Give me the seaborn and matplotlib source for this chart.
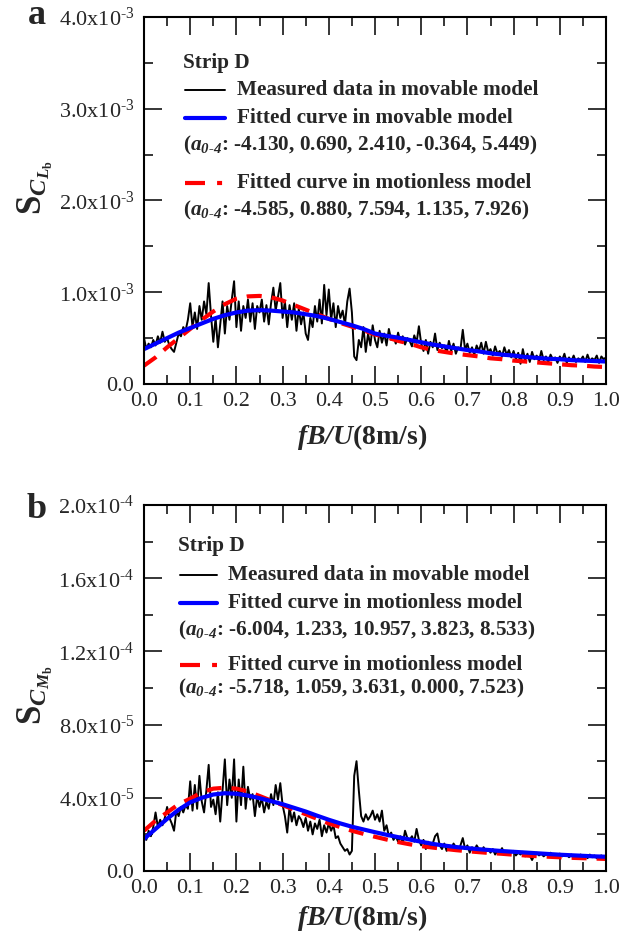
import numpy as np
import pandas as pd
import matplotlib
matplotlib.use("Agg")
import matplotlib.pyplot as plt
import seaborn as sns

# frequency grid of the measured spectra and of the fitted curves
freq = np.round(np.arange(201) * 0.005, 3)
fit_freq = np.round(np.arange(41) * 0.025, 3)

# panel a, values in 1e-3
measured_a = [
    0.50, 0.38, 0.44, 0.40, 0.48, 0.42, 0.52, 0.45, 0.57, 0.46,
    0.50, 0.42, 0.38, 0.35, 0.45, 0.55, 0.52, 0.62, 0.58, 0.70,
    0.88, 0.62, 0.78, 0.60, 0.85, 0.70, 0.90, 0.76, 1.10, 0.75,
    0.46, 0.72, 0.40, 0.65, 0.90, 0.55, 0.85, 0.70, 0.92, 1.12,
    0.62, 0.90, 0.58, 0.85, 0.72, 0.92, 0.68, 0.88, 0.60, 0.85,
    0.78, 0.92, 0.68, 0.86, 0.65, 0.88, 1.05, 0.80, 0.95, 1.10,
    0.72, 0.90, 0.62, 0.86, 0.70, 0.88, 0.58, 0.82, 0.65, 0.78,
    0.55, 0.48, 0.72, 0.62, 0.85, 0.68, 0.92, 0.66, 1.08, 0.75,
    1.03, 0.70, 0.88, 0.62, 0.85, 0.72, 0.80, 0.65, 0.90, 1.04,
    0.78, 0.30, 0.26, 0.48, 0.40, 0.62, 0.35, 0.55, 0.42, 0.64,
    0.48, 0.40, 0.58, 0.45, 0.55, 0.42, 0.60, 0.48, 0.52, 0.44,
    0.56, 0.46, 0.52, 0.43, 0.50, 0.47, 0.41, 0.53, 0.45, 0.63,
    0.44, 0.36, 0.48, 0.33, 0.46, 0.40, 0.55, 0.37, 0.45, 0.39,
    0.42, 0.34, 0.47, 0.36, 0.44, 0.33, 0.40, 0.38, 0.59, 0.37,
    0.44, 0.34, 0.40, 0.32, 0.42, 0.36, 0.45, 0.33, 0.46, 0.35,
    0.38, 0.31, 0.41, 0.33, 0.36, 0.30, 0.40, 0.32, 0.37, 0.29,
    0.36, 0.27, 0.34, 0.22, 0.38, 0.26, 0.33, 0.24, 0.35, 0.27,
    0.31, 0.25, 0.36, 0.26, 0.30, 0.24, 0.32, 0.27, 0.29, 0.23,
    0.30, 0.26, 0.33, 0.23, 0.29, 0.25, 0.31, 0.24, 0.28, 0.26,
    0.30, 0.24, 0.32, 0.25, 0.28, 0.26, 0.31, 0.23, 0.30, 0.27, 0.29,
]
fit_movable_a = [
    0.38, 0.44, 0.50, 0.56, 0.61, 0.66, 0.71, 0.75, 0.78, 0.80,
    0.805, 0.80, 0.79, 0.78, 0.76, 0.74, 0.71, 0.675, 0.64, 0.60,
    0.55, 0.525, 0.505, 0.48, 0.455, 0.43, 0.41, 0.39, 0.37, 0.355,
    0.335, 0.32, 0.31, 0.295, 0.285, 0.275, 0.27, 0.26, 0.255, 0.25, 0.245,
]
fit_motionless_a = [
    0.20, 0.29, 0.40, 0.50, 0.60, 0.70, 0.79, 0.87, 0.93, 0.955,
    0.96, 0.945, 0.91, 0.86, 0.81, 0.76, 0.71, 0.665, 0.625, 0.585,
    0.54, 0.51, 0.47, 0.44, 0.40, 0.37, 0.35, 0.33, 0.315, 0.30,
    0.28, 0.27, 0.255, 0.245, 0.235, 0.225, 0.215, 0.205, 0.20, 0.19, 0.185,
]

# panel b, values in 1e-5
measured_b = [
    2.0, 1.7, 2.2, 1.9, 2.4, 3.2, 2.4, 2.8, 2.5, 2.9,
    3.5, 2.9, 2.6, 2.2, 3.3, 3.0, 3.5, 3.2, 3.6, 3.4,
    4.9, 3.3, 4.7, 3.4, 5.2, 3.8, 3.2, 4.4, 5.8, 3.5,
    3.9, 3.1, 4.3, 2.7, 4.4, 6.1, 3.6, 5.0, 4.0, 6.1,
    2.7, 5.0, 3.6, 5.7, 3.4, 4.6, 3.9, 4.2, 3.0, 4.1,
    3.5, 4.0, 3.2, 3.8, 3.4, 4.2, 3.6, 4.7, 3.9, 4.8,
    3.6, 3.0, 2.1, 3.5, 2.7, 3.2, 2.5, 3.0, 2.8, 2.4,
    2.9, 2.2, 2.7, 2.0, 2.6, 2.3, 2.8, 1.9, 2.5, 2.1,
    2.6, 2.2, 2.5, 1.8, 1.9, 1.5, 1.3, 1.1, 1.2, 0.9,
    1.1, 5.2, 6.0, 4.4, 3.0, 2.7, 3.1, 2.8, 3.0, 3.3,
    2.8, 3.1, 2.7, 3.3, 2.2, 2.5, 1.9, 2.1, 1.7, 1.9,
    1.6, 1.9, 1.5, 2.2, 1.8, 1.7, 1.9, 1.6, 2.3, 1.7,
    1.4, 1.7, 1.2, 1.6, 1.3, 1.5, 1.9, 2.05, 1.4, 1.2,
    1.5, 1.1, 1.4, 1.2, 1.5, 1.3, 1.1, 1.4, 1.8, 1.2,
    1.4, 1.0, 1.3, 1.1, 1.4, 1.2, 1.0, 1.3, 1.1, 1.2,
    1.0, 1.2, 0.9, 1.1, 1.0, 1.25, 0.95, 1.1, 0.9, 1.05,
    1.1, 0.85, 1.0, 0.9, 1.05, 0.8, 0.95, 0.85, 0.6, 0.9,
    1.0, 0.85, 0.95, 0.8, 0.9, 0.85, 1.0, 0.8, 0.9, 0.85,
    0.95, 0.8, 0.85, 0.9, 0.75, 0.9, 0.8, 0.85, 0.75, 0.9,
    0.8, 0.85, 0.7, 0.9, 0.75, 0.85, 0.7, 0.8, 0.85, 0.75, 0.8,
]
fit_movable_b = [
    1.75, 2.3, 2.85, 3.35, 3.75, 4.0, 4.18, 4.25, 4.22, 4.12,
    3.98, 3.82, 3.65, 3.45, 3.25, 3.02, 2.8, 2.6, 2.42, 2.27,
    2.12, 1.98, 1.85, 1.72, 1.6, 1.48, 1.39, 1.31, 1.25, 1.19,
    1.14, 1.09, 1.05, 1.01, 0.97, 0.93, 0.89, 0.86, 0.83, 0.80, 0.78,
]
fit_motionless_b = [
    2.2, 2.75, 3.2, 3.65, 3.95, 4.3, 4.5, 4.55, 4.5, 4.35,
    4.1, 3.85, 3.6, 3.35, 3.1, 2.85, 2.6, 2.4, 2.2, 2.03,
    1.87, 1.72, 1.58, 1.46, 1.36, 1.28, 1.21, 1.14, 1.08, 1.03,
    0.98, 0.94, 0.89, 0.85, 0.81, 0.78, 0.75, 0.72, 0.70, 0.68, 0.66,
]

xticks = [0.0, 0.1, 0.2, 0.3, 0.4, 0.5, 0.6, 0.7, 0.8, 0.9, 1.0]
xtick_labels = ['0.0', '0.1', '0.2', '0.3', '0.4', '0.5', '0.6', '0.7', '0.8', '0.9', '1.0']
yticks_a = [0.0, 1e-3, 2e-3, 3e-3, 4e-3]
ytick_labels_a = ['0.0', '1.0x10$^{\u20103}$', '2.0x10$^{\u20103}$', '3.0x10$^{\u20103}$',
                  '4.0x10$^{\u20103}$']
yticks_b = [0.0, 4e-5, 8e-5, 1.2e-4, 1.6e-4, 2.0e-4]
ytick_labels_b = ['0.0', '4.0x10$^{\u20105}$', '8.0x10$^{\u20105}$', '1.2x10$^{\u20104}$',
                  '1.6x10$^{\u20104}$', '2.0x10$^{\u20104}$']

key_a = ['Measured data in movable model',
         'Fitted curve in movable model',
         '($\\mathbfit{a}_{\\mathbfit{0\u20104}}$: -4.130, 0.690, 2.410, -0.364, 5.449)',
         'Fitted curve in motionless model',
         '($\\mathbfit{a}_{\\mathbfit{0\u20104}}$: -4.585, 0.880, 7.594, 1.135, 7.926)']
key_b = ['Measured data in movable model',
         'Fitted curve in motionless model',
         '($\\mathbfit{a}_{\\mathbfit{0\u20104}}$: -6.004, 1.233, 10.957, 3.823, 8.533)',
         'Fitted curve in motionless model',
         '($\\mathbfit{a}_{\\mathbfit{0\u20104}}$: -5.718, 1.059, 3.631, 0.000, 7.523)']

sns.set_style("ticks")
plt.rcParams['font.family'] = ['Liberation Serif', 'DejaVu Serif']
plt.rcParams['mathtext.fontset'] = 'custom'
plt.rcParams['mathtext.rm'] = 'Liberation Serif'
plt.rcParams['mathtext.it'] = 'Liberation Serif:italic'
plt.rcParams['mathtext.bf'] = 'Liberation Serif:bold'
plt.rcParams['mathtext.bfit'] = 'Liberation Serif:italic:bold'

fig = plt.figure(figsize=(6.44, 9.38), dpi=100)
ax_a = fig.add_axes([144 / 644, 1 - 384 / 938, 462 / 644, 367 / 938])
ax_b = fig.add_axes([144 / 644, 1 - 871 / 938, 462 / 644, 366 / 938])

red_dash = (0, (3.6, 2.4))
key_size = 15.3


def draw_panel(ax, meas, fit1, fit2, scale, yticks, ylabels, ymax, yminor, ylab, ylab_y):
    sns.lineplot(x=freq, y=np.array(meas) * scale, ax=ax, color='black', lw=1.4, errorbar=None)
    sns.lineplot(x=fit_freq, y=np.array(fit2) * scale, ax=ax, color='#ff0000', lw=3.0,
                 linestyle=red_dash, errorbar=None)
    sns.lineplot(x=fit_freq, y=np.array(fit1) * scale, ax=ax, color='#0000ff', lw=3.0, errorbar=None)
    ax.set_xlim(0, 1)
    ax.set_ylim(0, ymax)
    ax.set_xticks(xticks)
    ax.set_xticklabels(xtick_labels)
    ax.set_xticks(np.arange(0.05, 1.0, 0.1), minor=True)
    ax.set_yticks(yticks)
    ax.set_yticklabels(ylabels)
    ax.set_yticks(yminor, minor=True)
    ax.tick_params(which='both', direction='in', top=True, right=True, width=1.1, color='black')
    ax.tick_params(which='major', length=13, labelsize=16)
    ax.tick_params(which='minor', length=6.5)
    ax.tick_params(axis='x', pad=6)
    ax.tick_params(axis='y', pad=7)
    for s in ax.spines.values():
        s.set_linewidth(1.5)
        s.set_color('black')
    ax.set_xlabel('$\\mathbfit{fB/U}$(8m/s)', fontsize=20, fontweight='bold', va='center')
    ax.set_ylabel(ylab, fontsize=25, va='center')
    ax.yaxis.set_label_coords(-0.235, ylab_y)


def draw_key(ax, texts, x_line, x_text, ys):
    ax.text(x_line[0] - 0.005, ys[0], 'Strip D', transform=ax.transAxes, fontsize=key_size,
            fontweight='bold', va='center', ha='left')
    styles = [dict(color='black', lw=1.4), dict(color='#0000ff', lw=3.0), None,
              dict(color='#ff0000', lw=3.0, linestyle=(0, (4.8, 2.9, 1.2, 5))), None]
    for t, y, st in zip(texts, ys[1:], styles):
        if st is not None:
            ax.plot(x_line, [y, y], transform=ax.transAxes, **st)
            ax.text(x_text, y, t, transform=ax.transAxes, fontsize=key_size,
                    fontweight='bold', va='center', ha='left')
        else:
            ax.text(x_line[0] - 0.005, y, t, transform=ax.transAxes, fontsize=key_size,
                    fontweight='bold', va='center', ha='left')


draw_panel(ax_a, measured_a, fit_movable_a, fit_motionless_a, 1e-3, yticks_a, ytick_labels_a,
           4e-3, np.arange(0.5e-3, 4e-3, 1e-3),
           '$\\mathbf{S}_{\\mathbfit{C}_{\\mathbfit{L}_{\\mathbf{b}}}}$', 0.534)
draw_panel(ax_b, measured_b, fit_movable_b, fit_motionless_b, 1e-5, yticks_b, ytick_labels_b,
           2e-4, np.arange(2e-5, 2e-4, 4e-5),
           '$\\mathbf{S}_{\\mathbfit{C}_{\\mathbfit{M}_{\\mathbf{b}}}}$', 0.481)
ax_a.xaxis.set_label_coords(0.472, -0.144)
ax_b.xaxis.set_label_coords(0.472, -0.128)

draw_key(ax_a, key_a, [0.089, 0.175], 0.201, [0.875, 0.801, 0.725, 0.651, 0.548, 0.474])
draw_key(ax_b, key_b, [0.078, 0.158], 0.182, [0.888, 0.809, 0.733, 0.658, 0.563, 0.500])

fig.text(28 / 644, 1 - 24 / 938, 'a', fontsize=26, fontweight='bold', va='baseline')
fig.text(27 / 644, 1 - 518 / 938, 'b', fontsize=26, fontweight='bold', va='baseline')

fig.savefig('out.png', dpi=100)
